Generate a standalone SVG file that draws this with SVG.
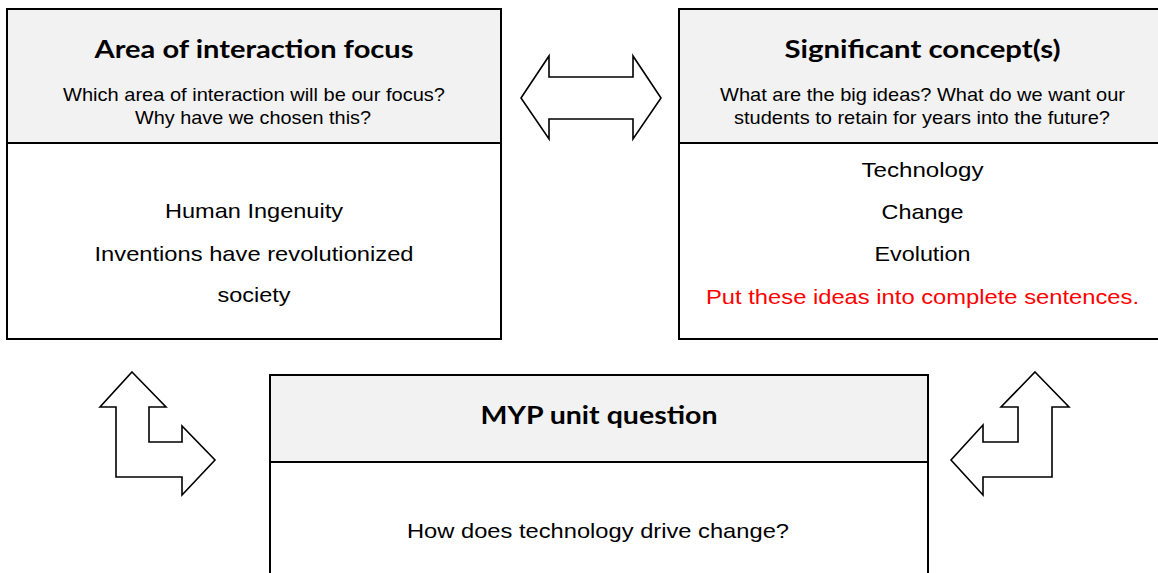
<svg xmlns="http://www.w3.org/2000/svg" width="1158" height="573" viewBox="0 0 1158 573">
  <style>
    .frame { fill: #ffffff; stroke: #000000; stroke-width: 2; }
    .head { fill: #f2f2f2; stroke: none; }
    .rule { stroke: #000000; stroke-width: 2; }
    .title { font-family: Lato, "Open Sans", sans-serif; font-weight: bold; font-size: 25px; fill: #000000; text-anchor: middle; }
    .sub { font-family: "Liberation Sans", Arial, sans-serif; font-size: 18.5px; fill: #000000; text-anchor: middle; }
    .body { font-family: "Liberation Sans", Arial, sans-serif; font-size: 21px; fill: #000000; text-anchor: middle; }
    .note { fill: #ff0000; }
    .arrow { fill: #ffffff; stroke: #000000; stroke-width: 1.6; stroke-linejoin: miter; }
  </style>

  <rect width="1158" height="573" fill="#ffffff"/>

  <!-- Area of interaction focus -->
  <g id="area-of-interaction">
    <rect class="frame" x="7" y="9" width="494" height="330"/>
    <rect class="head" x="8" y="10" width="492" height="133"/>
    <line class="rule" x1="7" y1="143" x2="501" y2="143"/>
    <text class="title" x="254" y="58" textLength="319" lengthAdjust="spacingAndGlyphs">Area of interaction focus</text>
    <text class="sub" x="254" y="101" textLength="382" lengthAdjust="spacingAndGlyphs">Which area of interaction will be our focus?</text>
    <text class="sub" x="253" y="124" textLength="236" lengthAdjust="spacingAndGlyphs">Why have we chosen this?</text>
    <text class="body" x="254" y="218" textLength="178" lengthAdjust="spacingAndGlyphs">Human Ingenuity</text>
    <text class="body" x="254" y="261" textLength="319" lengthAdjust="spacingAndGlyphs">Inventions have revolutionized</text>
    <text class="body" x="254" y="302" textLength="73" lengthAdjust="spacingAndGlyphs">society</text>
  </g>

  <!-- Significant concepts -->
  <g id="significant-concepts">
    <rect class="frame" x="679" y="9" width="487" height="330"/>
    <rect class="head" x="680" y="10" width="485" height="133"/>
    <line class="rule" x1="679" y1="143" x2="1166" y2="143"/>
    <text class="title" x="922.5" y="58" textLength="276" lengthAdjust="spacingAndGlyphs">Significant concept(s)</text>
    <text class="sub" x="922.5" y="101" textLength="405" lengthAdjust="spacingAndGlyphs">What are the big ideas? What do we want our</text>
    <text class="sub" x="922" y="124" textLength="376" lengthAdjust="spacingAndGlyphs">students to retain for years into the future?</text>
    <text class="body" x="922.5" y="177" textLength="122" lengthAdjust="spacingAndGlyphs">Technology</text>
    <text class="body" x="922.5" y="219" textLength="82" lengthAdjust="spacingAndGlyphs">Change</text>
    <text class="body" x="922.5" y="261" textLength="96" lengthAdjust="spacingAndGlyphs">Evolution</text>
    <text class="body note" x="922.5" y="304" textLength="433" lengthAdjust="spacingAndGlyphs">Put these ideas into complete sentences.</text>
  </g>

  <!-- MYP unit question -->
  <g id="unit-question">
    <rect class="frame" x="270" y="375" width="658" height="210"/>
    <rect class="head" x="271" y="376" width="656" height="86"/>
    <line class="rule" x1="270" y1="462" x2="928" y2="462"/>
    <text class="title" x="599" y="424" textLength="237" lengthAdjust="spacingAndGlyphs">MYP unit question</text>
    <text class="body" x="598" y="538" textLength="382" lengthAdjust="spacingAndGlyphs">How does technology drive change?</text>
  </g>

  <!-- Block arrows linking the boxes -->
  <g id="connectors">
    <polygon class="arrow" points="521,98 549,56 549,77 633,77 633,56 661,98 633,139 633,119 549,119 549,139"/>
    <polygon class="arrow" points="132,372 166,407 149,407 149,442 182,442 182,426 215,460 182,495 182,477 116,477 116,407 100,407"/>
    <polygon class="arrow" points="1035,372 1069,407 1052,407 1052,477 983,477 983,495 951,460 983,425 983,442 1018,442 1018,407 1001,407"/>
  </g>
</svg>
